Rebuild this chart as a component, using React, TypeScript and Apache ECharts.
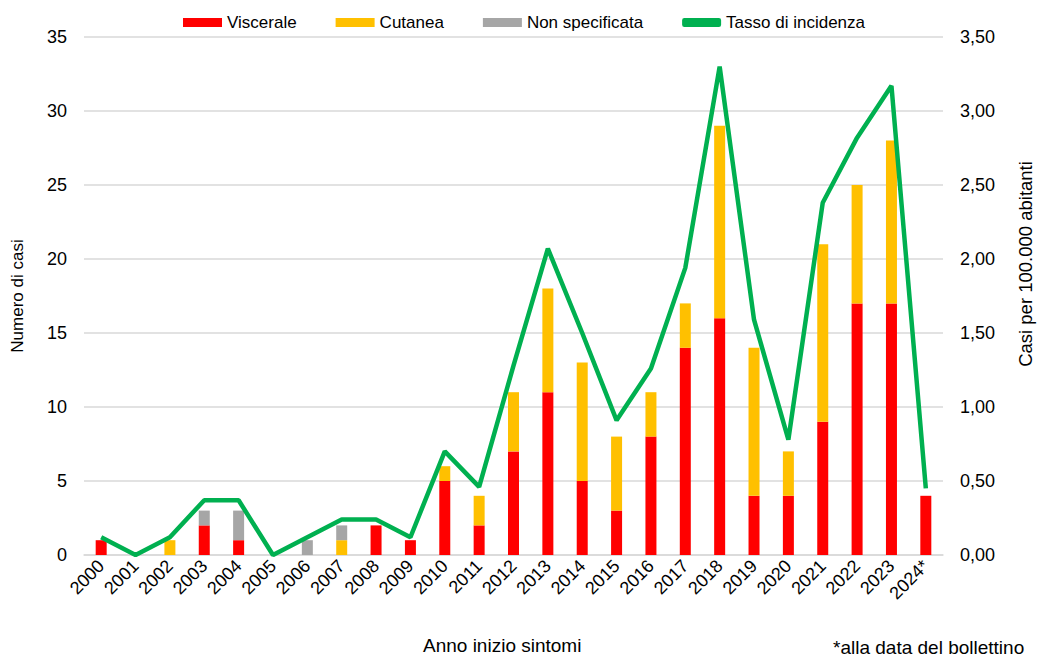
import React, { useEffect, useRef } from "react";
import * as echarts from "echarts";

const years = ["2000","2001","2002","2003","2004","2005","2006","2007","2008","2009","2010","2011","2012","2013","2014","2015","2016","2017","2018","2019","2020","2021","2022","2023","2024*"];
const viscerale = [1,0,0,2,1,0,0,0,2,1,5,2,7,11,5,3,8,14,16,4,4,9,17,17,4];
const cutanea = [0,0,1,0,0,0,0,1,0,0,1,2,4,7,8,5,3,3,13,10,3,12,8,11,0];
const nonSpecificata = [0,0,0,1,2,0,1,1,0,0,0,0,0,0,0,0,0,0,0,0,0,0,0,0,0];
const tasso = [0.12,0,0.12,0.37,0.37,0,0.12,0.24,0.24,0.12,0.70,0.46,1.28,2.07,1.50,0.91,1.26,1.94,3.30,1.59,0.78,2.38,2.82,3.17,0.45];

const FONT = "'Liberation Sans', Arial, sans-serif";

export default function App() {
  const ref = useRef<HTMLDivElement>(null);
  useEffect(() => {
    const chart = echarts.init(ref.current!, null, { renderer: "svg" });
    chart.setOption({
      animation: false,
      backgroundColor: "#ffffff",
      textStyle: { fontFamily: FONT, color: "#000" },
      legend: {
        top: 9,
        left: 178,
        itemWidth: 39,
        itemHeight: 9,
        itemGap: 39,
        textStyle: { fontFamily: FONT, fontSize: 17, color: "#000" },
        data: [
          { name: "Viscerale", icon: "rect" },
          { name: "Cutanea", icon: "rect" },
          { name: "Non specificata", icon: "rect" },
          { name: "Tasso di incidenza", icon: "roundRect", itemStyle: { color: "#00B050" } },
        ],
      },
      grid: { left: 84, right: 94, top: 37, bottom: 102, containLabel: false, outerBoundsMode: "none" },
      xAxis: {
        type: "category",
        data: years,
        axisTick: { show: false },
        axisLine: { lineStyle: { color: "#d9d9d9", width: 1.5 } },
        axisLabel: { rotate: 45, interval: 0, fontSize: 18, color: "#000", margin: 8, fontFamily: FONT, hideOverlap: false },
      },
      yAxis: [
        {
          type: "value",
          min: 0,
          max: 35,
          interval: 5,
          name: "Numero di casi",
          nameLocation: "middle",
          nameGap: 58,
          nameTextStyle: { fontSize: 17, color: "#000", fontFamily: FONT },
          axisLabel: { fontSize: 18, color: "#000", margin: 17 },
          splitLine: { lineStyle: { color: "#d9d9d9", width: 1.5 } },
        },
        {
          type: "value",
          min: 0,
          max: 3.5,
          interval: 0.5,
          axisLabel: {
            fontSize: 18,
            color: "#000",
            margin: 17,
            formatter: (v: number) => v.toFixed(2).replace(".", ","),
          },
          splitLine: { show: false },
        },
      ],
      graphic: [
        {
          type: "text",
          x: 1025,
          y: 264,
          rotation: Math.PI / 2,
          style: {
            text: "Casi per 100.000 abitanti",
            fontSize: 18.5,
            fill: "#000",
            fontFamily: FONT,
            align: "center",
            verticalAlign: "middle",
          },
        },
        {
          type: "text",
          left: 423,
          top: 636,
          style: { text: "Anno inizio sintomi", fontSize: 19, fill: "#000", fontFamily: FONT },
        },
        {
          type: "text",
          left: 833,
          top: 638,
          style: { text: "*alla data del bollettino", fontSize: 19, fill: "#000", fontFamily: FONT },
        },
      ],
      series: [
        { name: "Viscerale", type: "bar", stack: "casi", data: viscerale, barWidth: 11, itemStyle: { color: "#FF0000" } },
        { name: "Cutanea", type: "bar", stack: "casi", data: cutanea, barWidth: 11, itemStyle: { color: "#FFC000" } },
        { name: "Non specificata", type: "bar", stack: "casi", data: nonSpecificata, barWidth: 11, itemStyle: { color: "#A6A6A6" } },
        {
          name: "Tasso di incidenza",
          type: "line",
          yAxisIndex: 1,
          data: tasso,
          symbol: "none",
          lineStyle: { color: "#00B050", width: 4.5 },
          itemStyle: { color: "#00B050" },
        },
      ],
    });
    return () => chart.dispose();
  }, []);
  return <div ref={ref} style={{ position: "fixed", left: 0, top: 0, width: 1037, height: 657 }} />;
}
